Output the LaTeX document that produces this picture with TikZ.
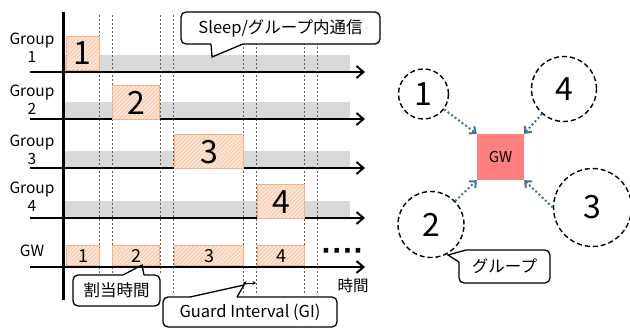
\documentclass[tikz,border=0pt]{standalone}
\usepackage{fontspec}
\setmainfont{Noto Sans CJK JP}
\newfontfamily\dotfont{Liberation Sans}
\usetikzlibrary{arrows.meta,patterns.meta}
\definecolor{barGray}{HTML}{D9D9D9}
\definecolor{boxFill}{HTML}{FCE6D8}
\definecolor{boxLine}{HTML}{F4B183}
\definecolor{hatchCol}{HTML}{F6BE98}
\definecolor{gwRed}{HTML}{FF7F7F}
\definecolor{arrBlue}{HTML}{41719C}
\definecolor{vlineCol}{HTML}{606060}
\tikzset{
  slot/.style={draw=boxLine, line width=1.3pt, preaction={fill=boxFill},
    pattern={Lines[angle=45,distance=2.8pt,line width=0.6pt]}, pattern color=hatchCol,
    inner sep=0pt, anchor=north west},
  bignum/.style={font=\fontsize{32}{32}\selectfont},
  midnum/.style={font=\fontsize{18}{18}\selectfont},
  axisline/.style={line width=2pt, -{Straight Barb[length=7pt,width=12pt]}},
  vdash/.style={draw=vlineCol, line width=0.8pt, dash pattern=on 2pt off 2pt},
  grpc/.style={circle, draw, line width=1.4pt, dash pattern=on 5pt off 3pt, inner sep=0pt,
    font=\fontsize{32}{32}\selectfont},
  garrow/.style={draw=arrBlue, line width=2pt, dash pattern=on 2pt off 2.4pt,
    -{Straight Barb[length=5pt,width=9pt]}},
  cbox/.style={draw, line width=1.3pt, fill=white, rounded corners=5pt, inner sep=0pt,
    font=\fontsize{16.5}{16.5}\selectfont},
  cline/.style={line width=1.3pt},
  glabel/.style={align=center, font=\fontsize{15.5}{18}\selectfont, inner sep=0pt},
}
\begin{document}
\begin{tikzpicture}[x=1pt,y=-1pt]
\useasboundingbox (0,0) rectangle (630,329);

% gray sleep bars
\foreach \y in {72,119,168,218} \fill[barGray] (65,\y-17) rectangle (350,\y);

% dashed guide lines
\foreach \x in {99,112,160} \draw[vdash] (\x,15) -- (\x,273);
\foreach \x in {173,243,256,304,317} \draw[vdash] (\x,15) -- (\x,293);

% time axes
\foreach \y/\n in {72/1,119/2,168/3,218/4,267/5} {
  \coordinate (as\n) at (30,\y);
  \coordinate (ae\n) at (365,\y);
  \draw[axisline] (as\n) -- (ae\n);
}
\coordinate (vt) at (63,12);
\coordinate (vb) at (63,300);
\draw[line width=3pt] (vt) -- (vb);

% group labels
\node[glabel] (l1) at (32,48) {Group\\1};
\node[glabel] (l2) at (32,100) {Group\\2};
\node[glabel] (l3) at (32,149.5) {Group\\3};
\node[glabel] (l4) at (32,197) {Group\\4};
\node[glabel] (lgw) at (32,251) {GW};

% slots
\node[slot, bignum, minimum width=33pt, minimum height=34pt] (g1) at (66,36) {1};
\node[slot, bignum, minimum width=47pt, minimum height=34pt] (g2) at (112,85) {2};
\node[slot, bignum, minimum width=69pt, minimum height=34pt] (g3) at (174,134) {3};
\node[slot, bignum, minimum width=47pt, minimum height=34pt] (g4) at (257,184) {4};

\node[slot, midnum, minimum width=33pt, minimum height=20pt] (w1) at (66,245) {1};
\node[slot, midnum, minimum width=47pt, minimum height=20pt] (w2) at (112,245) {2};
\node[slot, midnum, minimum width=69pt, minimum height=20pt] (w3) at (174,245) {3};
\node[slot, midnum, minimum width=47pt, minimum height=20pt] (w4) at (257,245) {4};

\node[font=\dotfont\bfseries\fontsize{32}{32}\selectfont, inner sep=0pt] (dots) at (343,255) {····};
\node[font=\fontsize{15.5}{15.5}\selectfont, inner sep=0pt] (jikan) at (353,286) {時間};

% guard interval marker
\coordinate (gia) at (243,283);
\coordinate (gib) at (256,283);
\draw[line width=0.9pt, {Stealth[length=3.5pt,width=4pt]}-{Stealth[length=3.5pt,width=4pt]}] (gia) -- (gib);

% callout: Sleep
\node[cbox, minimum width=199pt, minimum height=32pt] (sleep) at (280.5,28) {Sleep/グループ内通信};
\fill[white] (211.2,42.4) rectangle (242.8,45.7);
\draw[cline] (211,44) -- (212,57) -- (243,44);

% callout: allocation time
\node[cbox, minimum width=87pt, minimum height=31pt] (alloc) at (116.5,290.5) {割当時間};
\fill[white] (123.2,273.4) rectangle (143.8,276.7);
\draw[cline] (123,275) -- (142,265) -- (144,275);

% callout: guard interval
\node[cbox, minimum width=174pt, minimum height=30pt] (gi) at (250,312) {Guard Interval (GI)};
\fill[white] (190.2,295.4) rectangle (236.8,298.7);
\draw[cline] (190,297) -- (244,285) -- (237,297);

% right: groups and GW
\node[fill=gwRed, minimum width=47pt, minimum height=46pt, inner sep=0pt,
  font=\fontsize{15}{15}\selectfont] (gw) at (500.5,157) {GW};
\node[grpc, minimum size=50pt] (c1) at (423.5,94) {1};
\node[grpc, minimum size=65pt] (c4) at (564,89) {4};
\node[grpc, minimum size=66pt] (c2) at (431,224.5) {2};
\node[grpc, minimum size=78pt] (c3) at (592.5,207.5) {3};

\draw[garrow] (c1) -- (gw.north west);
\draw[garrow] (c4) -- (gw.north east);
\draw[garrow] (c2) -- (gw.south west);
\draw[garrow] (c3.west) -- (gw.south east);

% callout: group
\node[cbox, minimum width=91pt, minimum height=33pt] (grp) at (504.5,266.5) {グループ};
\fill[white] (457.3,248.3) rectangle (466,262);
\draw[cline] (466,250) -- (448,255) -- (459,262);
\end{tikzpicture}
\end{document}
